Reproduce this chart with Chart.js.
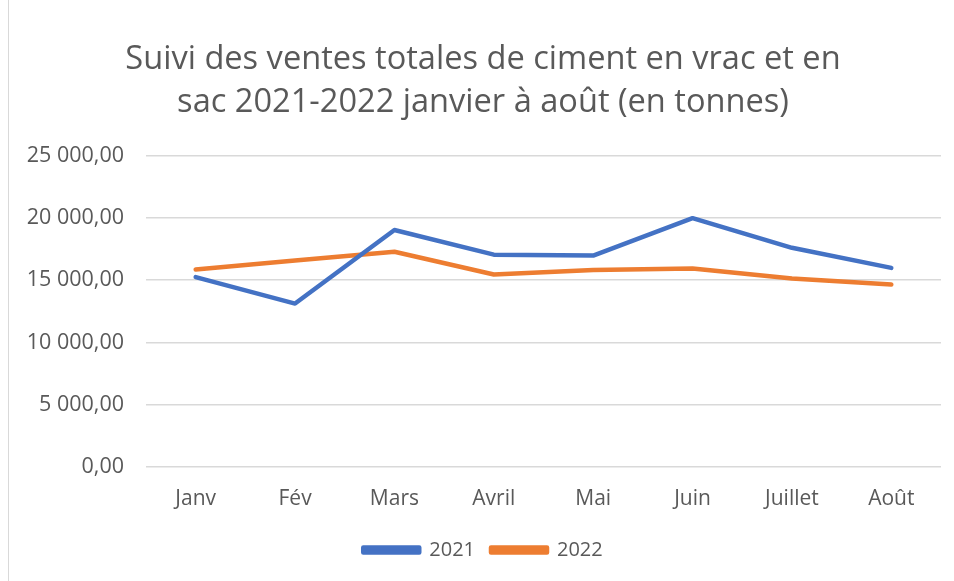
<!DOCTYPE html>
<html>
<head>
<meta charset="utf-8">
<script src="https://cdn.jsdelivr.net/npm/chart.js@4"></script>
<style>
  body { margin: 0; background: #fff; overflow: hidden; }
  #wrap { position: absolute; left: 8px; top: 0; width: 960px; height: 581px; border-left: 1px solid #d9d9d9; box-sizing: border-box; }
  #chart { display: block; }
</style>
</head>
<body>
<div id="wrap"><canvas id="chart" width="958" height="581"></canvas></div>
<script>
const months = ["Janv", "Fév", "Mars", "Avril", "Mai", "Juin", "Juillet", "Août"];
const sales2021 = [15250, 13120, 19030, 17050, 16980, 19980, 17600, 15990];
const sales2022 = [15860, 16590, 17280, 15460, 15810, 15940, 15140, 14650];
const titleLines = ["Suivi des ventes totales de ciment en vrac et en", "sac 2021-2022 janvier à août (en tonnes)"];

function frNumber(v) {
  const parts = Number(v).toFixed(2).split(".");
  const int = parts[0].replace(/\B(?=(\d{3})+(?!\d))/g, " ");
  return int + "," + parts[1];
}

const ctx = document.getElementById("chart");
new Chart(ctx, {
  type: "line",
  data: {
    labels: months,
    datasets: [
      {
        label: "2021",
        data: sales2021,
        borderColor: "#4472c4",
        backgroundColor: "#4472c4",
        borderWidth: 4.5,
        pointRadius: 0,
        tension: 0,
        borderCapStyle: "round",
        borderJoinStyle: "round",
      },
      {
        label: "2022",
        data: sales2022,
        borderColor: "#ed7d31",
        backgroundColor: "#ed7d31",
        borderWidth: 4.5,
        pointRadius: 0,
        tension: 0,
        borderCapStyle: "round",
        borderJoinStyle: "round",
      },
    ],
  },
  options: {
    responsive: false,
    animation: false,
    layout: { padding: { left: 16, right: 26, top: 39, bottom: 11 } },
    plugins: {
      title: {
        display: true,
        text: titleLines,
        color: "#595959",
        font: { family: "'Open Sans', sans-serif", size: 32.6, weight: "normal", lineHeight: 1.3 },
        padding: { top: 0, bottom: 32 },
      },
      legend: {
        position: "bottom",
        labels: {
          color: "#595959",
          font: { family: "'Open Sans', sans-serif", size: 20 },
          boxWidth: 56,
          boxHeight: 5,
          padding: 16,
        },
      },
      tooltip: { enabled: false },
    },
    scales: {
      x: {
        offset: true,
        grid: { display: false },
        border: { display: false },
        ticks: {
          color: "#595959",
          font: { family: "'Open Sans', sans-serif", size: 21 },
          padding: 12,
          maxRotation: 0,
        },
      },
      y: {
        min: 0,
        max: 25000,
        afterFit: function (axis) { axis.width = 121; },
        grid: { color: "#d9d9d9", lineWidth: 1.5, drawTicks: false },
        border: { display: false },
        ticks: {
          stepSize: 5000,
          color: "#595959",
          font: { family: "'Open Sans', sans-serif", size: 21.5 },
          padding: 22,
          callback: function (v) { return frNumber(v); },
        },
      },
    },
  },
});
</script>
</body>
</html>
